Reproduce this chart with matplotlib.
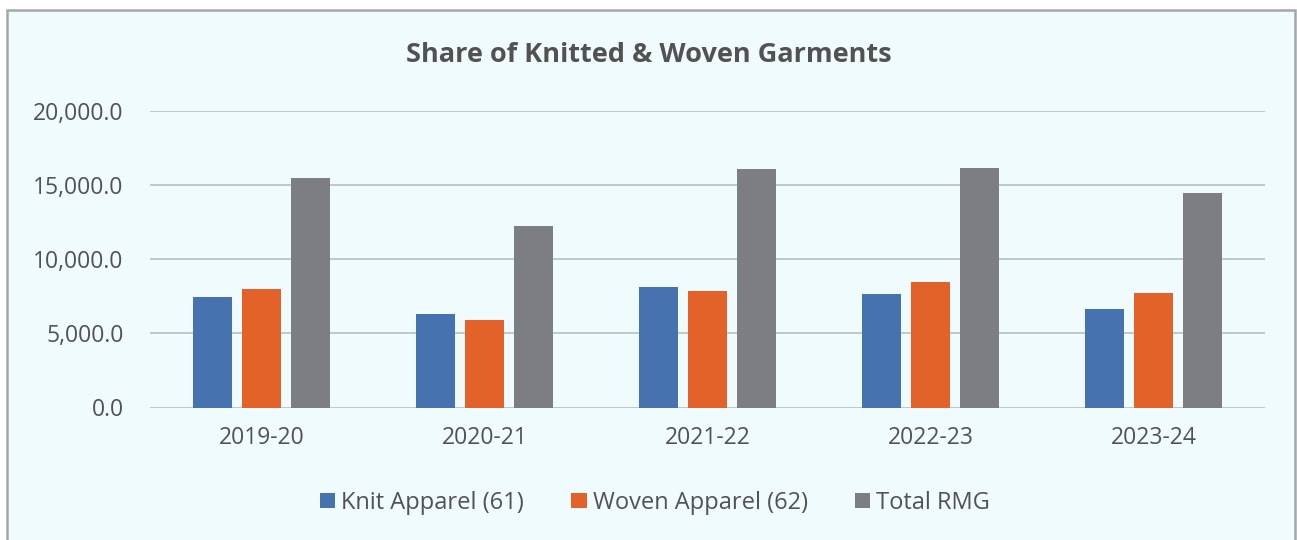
import numpy as np
import matplotlib.pyplot as plt
from matplotlib.patches import Rectangle

# Export values by fiscal year
years = ['2019-20', '2020-21', '2021-22', '2022-23', '2023-24']
knit = [7470, 6330, 8140, 7650, 6660]
woven = [8010, 5920, 7870, 8460, 7740]
total_rmg = [15480, 12250, 16060, 16150, 14480]

series_names = ['Knit Apparel (61)', 'Woven Apparel (62)', 'Total RMG']
colors = ['#4673b0', '#e2622a', '#7c7e81']
bg = '#f0fbfd'
text_col = '#525252'

plt.rcParams['font.family'] = ['Open Sans', 'DejaVu Sans']

fig = plt.figure(figsize=(12.97, 5.4), dpi=100)
fig.patch.set_facecolor('white')

# chart area frame (bottom edge runs off the canvas)
fig.patches.append(Rectangle((7 / 1297, -10 / 540), 1288 / 1297, 540 / 540,
                             transform=fig.transFigure, facecolor=bg,
                             edgecolor='#a6a6a6', linewidth=1.8, zorder=0))

ax = fig.add_axes([150 / 1297, 1 - 407.5 / 540, 1115 / 1297, (407.5 - 111) / 540])
ax.set_zorder(2)
ax.patch.set_alpha(0)

x = np.arange(len(years))
width = 0.175
step = 0.22
for i, (vals, name) in enumerate(zip([knit, woven, total_rmg], series_names)):
    ax.bar(x + (i - 1) * step, vals, width, color=colors[i], label=name, zorder=3)

ax.set_xlim(-0.5, len(years) - 0.5)
ax.set_ylim(0, 20000)
ax.set_yticks(np.arange(0, 20001, 5000))
ax.set_yticklabels([f'{v:,.1f}' for v in np.arange(0, 20001, 5000)])
ax.set_xticks(x)
ax.set_xticklabels(years)
ax.tick_params(axis='both', length=0, labelsize=16.5, colors=text_col)
ax.tick_params(axis='y', pad=19)
ax.tick_params(axis='x', pad=13)
ax.grid(axis='y', color='#bfc4c6', linewidth=1.3, zorder=0)
for s in ax.spines.values():
    s.set_visible(False)

fig.text(0.5, 1 - 55 / 540, 'Share of Knitted & Woven Garments', ha='center', va='center',
         fontsize=19.5, fontweight='bold', color=text_col)

fig.legend(loc='center', bbox_to_anchor=(0.505, 1 - 503 / 540), ncol=3, frameon=False,
           fontsize=17, labelcolor=text_col, handlelength=0.65, handleheight=0.6,
           handletextpad=0.25, columnspacing=2.0)

fig.savefig('out.png', dpi=100, facecolor='white')
